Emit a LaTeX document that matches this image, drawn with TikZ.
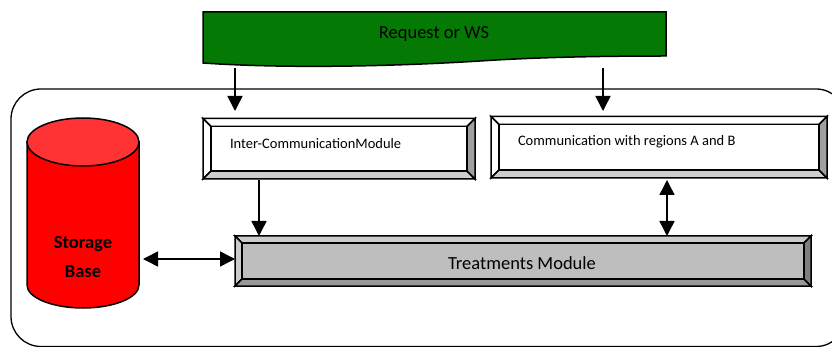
\documentclass[tikz,border=0pt]{standalone}
\usepackage{fontspec}
\setmainfont{Carlito}
\usetikzlibrary{arrows.meta,calc}
\tikzset{
  edge/.style={draw=black,line width=1.5pt},
  conn/.style={line width=1.5pt,-{Triangle[width=15pt,length=15pt]}},
  biconn/.style={line width=1.5pt,{Triangle[width=15pt,length=15pt]}-{Triangle[width=15pt,length=15pt]}},
  boxnode/.style={inner sep=0pt,outer sep=0pt,draw=none}
}
% name, x1,y1,x2,y2, inset, face, top, left, bottom, right
\newcommand{\bevelbox}[9]{%
  \def\bn{#1}\def\xa{#2}\def\ya{#3}\def\xb{#4}\def\yb{#5}\def\ins{#6}%
  \bevelcont{#7}{#8}{#9}}
\newcommand{\bevelcont}[5]{%
  \pgfmathsetmacro{\xc}{\xa+\ins}\pgfmathsetmacro{\yc}{\ya+\ins}%
  \pgfmathsetmacro{\xd}{\xb-\ins}\pgfmathsetmacro{\yd}{\yb-\ins}%
  \pgfmathsetmacro{\xm}{(\xa+\xb)/2}\pgfmathsetmacro{\ym}{(\ya+\yb)/2}%
  \pgfmathsetmacro{\wid}{\xb-\xa}\pgfmathsetmacro{\hei}{\yb-\ya}%
  \node[boxnode,minimum width=\wid pt,minimum height=\hei pt] (\bn) at (\xm,\ym) {};
  \filldraw[edge,fill=#2] (\xa,\ya) -- (\xb,\ya) -- (\xd,\yc) -- (\xc,\yc) -- cycle;
  \filldraw[edge,fill=#3] (\xa,\ya) -- (\xc,\yc) -- (\xc,\yd) -- (\xa,\yb) -- cycle;
  \filldraw[edge,fill=#4] (\xa,\yb) -- (\xc,\yd) -- (\xd,\yd) -- (\xb,\yb) -- cycle;
  \filldraw[edge,fill=#5] (\xb,\ya) -- (\xd,\yc) -- (\xd,\yd) -- (\xb,\yb) -- cycle;
  \filldraw[edge,fill=#1] (\xc,\yc) rectangle (\xd,\yd);
}
\definecolor{bannergreen}{HTML}{047A04}
\definecolor{bevlight}{HTML}{CDCDCD}
\definecolor{bevdark}{HTML}{A0A0A0}
\definecolor{grayface}{HTML}{BEBEBE}
\definecolor{graytop}{HTML}{CBCBCB}
\definecolor{graybot}{HTML}{989898}
\definecolor{grayright}{HTML}{7F7F7F}
\definecolor{cyltop}{HTML}{FF3333}
\begin{document}
\begin{tikzpicture}[x=1pt,y=-1pt]
\useasboundingbox (0,0) rectangle (832,347);
\begin{scope}
\clip (0,0) rectangle (832,347);
\draw[line width=1.3pt,rounded corners=30pt] (11,89) rectangle (846,346.5);
\end{scope}
% banner
\filldraw[edge,fill=bannergreen] (203,12) -- (666,12) -- (666,56)
  .. controls (610,56) and (540,57) .. (480,61)
  .. controls (400,66) and (290,69) .. (203,63) -- cycle;
\node[boxnode,font=\fontsize{18.5pt}{22pt}\selectfont] (req) at (434,34) {Request or WS};
% boxes
\bevelbox{inter}{203}{118.5}{475}{179}{8}{white}{white}{white}{bevlight}{bevdark}
\node[boxnode,font=\fontsize{14.5pt}{17pt}\selectfont,anchor=west] (intertxt) at (230,144) {Inter-CommunicationModule};
\bevelbox{comm}{491}{116.5}{827}{178}{8}{white}{white}{white}{bevlight}{bevdark}
\node[boxnode,font=\fontsize{14.5pt}{17pt}\selectfont,anchor=west] (commtxt) at (518,142) {Communication with regions A and B};
\bevelbox{treat}{235}{236}{811}{286}{7}{grayface}{graytop}{graytop}{graybot}{grayright}
\node[boxnode,font=\fontsize{18.5pt}{22pt}\selectfont] (treattxt) at (522,263) {Treatments Module};
% cylinder
\node[boxnode,minimum width=112pt,minimum height=190pt] (store) at (83,213) {};
\filldraw[edge,fill=red] (27,142) -- (27,285) arc[start angle=180,end angle=360,x radius=56,y radius=-23] -- (139,142) -- cycle;
\filldraw[edge,fill=cyltop] (83,142) ellipse[x radius=56,y radius=24];
\node[boxnode,font=\fontsize{18.5pt}{29pt}\selectfont\bfseries,align=center] (storetxt) at (83,257.5) {Storage\\Base};
% connectors
\coordinate (a1) at (235,68);
\coordinate (a2) at (603,68);
\coordinate (b1) at (259,180);
\draw[conn,shorten >=7.5pt] (a1) -- (a1 |- inter.north);
\draw[conn,shorten >=5.5pt] (a2) -- (a2 |- comm.north);
\draw[conn] (b1) -- (b1 |- treat.north);
\coordinate (c1) at (treat.west |- 0,259);
\coordinate (c2) at (143,259);
\draw[biconn] (c2) -- (c1);
\coordinate (d1) at (667,180);
\draw[biconn] (d1) -- (d1 |- treat.north);
\end{tikzpicture}
\end{document}
